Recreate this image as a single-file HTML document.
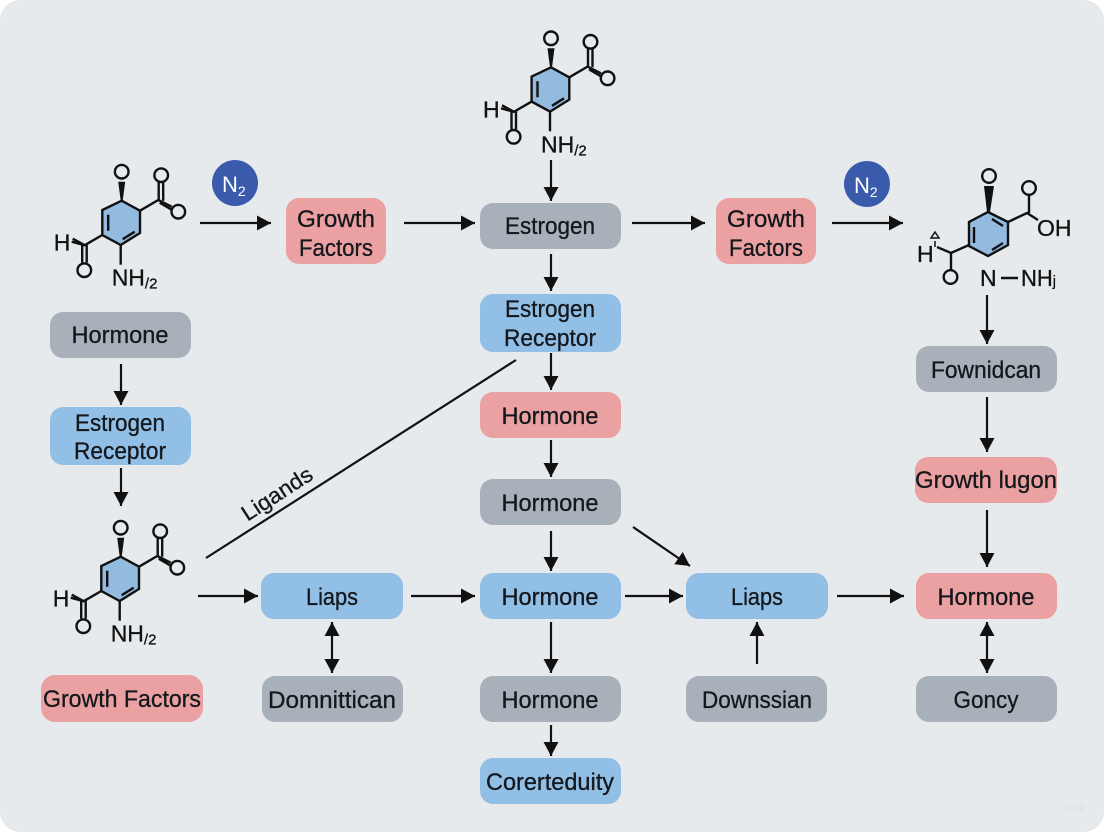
<!DOCTYPE html>
<html><head><meta charset="utf-8"><style>
html,body{margin:0;padding:0;background:#fff}
svg{display:block}
text{font-family:"Liberation Sans",sans-serif;fill:#14181d;stroke:#14181d;stroke-width:.3}
.n text,text.t{font-size:24px;text-anchor:middle}
.m line,.m path,.m circle{stroke:#111;stroke-width:2.4;fill:none}
.m text{font-size:23px;fill:#111;stroke:#111}
.a line{stroke:#111;stroke-width:2.2}
</style></head><body>
<svg width="1104" height="832" viewBox="0 0 1104 832" xmlns="http://www.w3.org/2000/svg">
<defs>
<marker id="h" markerUnits="userSpaceOnUse" markerWidth="15" markerHeight="16" refX="14" refY="7.5" orient="auto-start-reverse"><path d="M0 0L14 7.5L0 15Z" fill="#111"/></marker>
</defs>
<rect width="1104" height="832" rx="20" fill="#e7eaed"/>

<g class="a" marker-end="url(#h)">
<line x1="200" y1="223" x2="271" y2="223"/>
<line x1="404" y1="223" x2="475" y2="223"/>
<line x1="632" y1="223" x2="705" y2="223"/>
<line x1="832" y1="223" x2="903" y2="223"/>
<line x1="551" y1="160" x2="551" y2="201"/>
<line x1="551" y1="254" x2="551" y2="291"/>
<line x1="551" y1="353" x2="551" y2="390"/>
<line x1="551" y1="440" x2="551" y2="477"/>
<line x1="551" y1="531" x2="551" y2="571"/>
<line x1="551" y1="622" x2="551" y2="673"/>
<line x1="551" y1="725" x2="551" y2="756"/>
<line x1="121" y1="364" x2="121" y2="405"/>
<line x1="121" y1="468" x2="121" y2="506"/>
<line x1="987" y1="295" x2="987" y2="344"/>
<line x1="987" y1="397" x2="987" y2="452"/>
<line x1="987" y1="510" x2="987" y2="567"/>
<line x1="198" y1="596" x2="258" y2="596"/>
<line x1="411" y1="596" x2="475" y2="596"/>
<line x1="625" y1="596" x2="683" y2="596"/>
<line x1="837" y1="596" x2="904" y2="596"/>
<line x1="633" y1="527" x2="690" y2="566"/>
<line x1="757" y1="664" x2="757" y2="622"/>
<line x1="332" y1="622" x2="332" y2="673" marker-start="url(#h)"/>
<line x1="987" y1="622" x2="987" y2="673" marker-start="url(#h)"/>
</g>
<line x1="206" y1="558" x2="516" y2="360" stroke="#111" stroke-width="2.2"/>
<text x="281" y="500" font-size="22" text-anchor="middle" transform="rotate(-33 281 500)" textLength="80" lengthAdjust="spacingAndGlyphs">Ligands</text>

<g class="n">
<rect x="286" y="198" width="100" height="66" rx="13" fill="#eba1a1"/>
<text x="336" y="227" textLength="78" lengthAdjust="spacingAndGlyphs">Growth</text><text x="336" y="256" textLength="74" lengthAdjust="spacingAndGlyphs">Factors</text>
<rect x="480" y="203" width="141" height="46" rx="13" fill="#a8b1ba"/>
<text x="550" y="234" textLength="90" lengthAdjust="spacingAndGlyphs">Estrogen</text>
<rect x="716" y="198" width="100" height="66" rx="13" fill="#eba1a1"/>
<text x="766" y="227" textLength="78" lengthAdjust="spacingAndGlyphs">Growth</text><text x="766" y="256" textLength="74" lengthAdjust="spacingAndGlyphs">Factors</text>
<rect x="50" y="312" width="141" height="46" rx="13" fill="#a8b1ba"/>
<text x="120" y="343" textLength="97" lengthAdjust="spacingAndGlyphs">Hormone</text>
<rect x="50" y="407" width="141" height="58" rx="13" fill="#92bfe5"/>
<text x="120" y="431" textLength="90" lengthAdjust="spacingAndGlyphs">Estrogen</text><text x="120" y="459" textLength="92" lengthAdjust="spacingAndGlyphs">Receptor</text>
<rect x="480" y="294" width="141" height="58" rx="13" fill="#92bfe5"/>
<text x="550" y="317" textLength="90" lengthAdjust="spacingAndGlyphs">Estrogen</text><text x="550" y="346" textLength="92" lengthAdjust="spacingAndGlyphs">Receptor</text>
<rect x="480" y="392" width="141" height="46" rx="13" fill="#eba1a1"/>
<text x="550" y="424" textLength="97" lengthAdjust="spacingAndGlyphs">Hormone</text>
<rect x="480" y="479" width="141" height="46" rx="13" fill="#a8b1ba"/>
<text x="550" y="511" textLength="97" lengthAdjust="spacingAndGlyphs">Hormone</text>
<rect x="261" y="573" width="142" height="46" rx="13" fill="#92bfe5"/>
<text x="332" y="605" textLength="52" lengthAdjust="spacingAndGlyphs">Liaps</text>
<rect x="480" y="573" width="141" height="46" rx="13" fill="#92bfe5"/>
<text x="550" y="605" textLength="97" lengthAdjust="spacingAndGlyphs">Hormone</text>
<rect x="686" y="573" width="142" height="46" rx="13" fill="#92bfe5"/>
<text x="757" y="605" textLength="52" lengthAdjust="spacingAndGlyphs">Liaps</text>
<rect x="916" y="573" width="141" height="46" rx="13" fill="#eba1a1"/>
<text x="986" y="605" textLength="97" lengthAdjust="spacingAndGlyphs">Hormone</text>
<rect x="41" y="675" width="162" height="47" rx="14" fill="#eba1a1"/>
<text x="122" y="707" textLength="158" lengthAdjust="spacingAndGlyphs">Growth Factors</text>
<rect x="262" y="676" width="141" height="46" rx="13" fill="#a8b1ba"/>
<text x="332" y="708" textLength="128" lengthAdjust="spacingAndGlyphs">Domnittican</text>
<rect x="480" y="676" width="141" height="46" rx="13" fill="#a8b1ba"/>
<text x="550" y="708" textLength="97" lengthAdjust="spacingAndGlyphs">Hormone</text>
<rect x="686" y="676" width="141" height="46" rx="13" fill="#a8b1ba"/>
<text x="757" y="708" textLength="110" lengthAdjust="spacingAndGlyphs">Downssian</text>
<rect x="916" y="676" width="141" height="46" rx="13" fill="#a8b1ba"/>
<text x="986" y="708" textLength="65" lengthAdjust="spacingAndGlyphs">Goncy</text>
<rect x="480" y="758" width="141" height="46" rx="13" fill="#92bfe5"/>
<text x="550" y="790" textLength="128" lengthAdjust="spacingAndGlyphs">Corerteduity</text>
<rect x="916" y="346" width="141" height="46" rx="13" fill="#a8b1ba"/>
<text x="986" y="378" textLength="110" lengthAdjust="spacingAndGlyphs">Fownidcan</text>
<rect x="915" y="457" width="142" height="46" rx="13" fill="#eba1a1"/>
<text x="986" y="488" textLength="142" lengthAdjust="spacingAndGlyphs">Growth lugon</text>
</g>

<circle cx="235" cy="183" r="23" fill="#3a5bab"/>
<text x="222" y="192" font-size="22" style="fill:#fff;stroke:none">N<tspan font-size="14" dy="4">2</tspan></text>
<circle cx="867" cy="184" r="23" fill="#3a5bab"/>
<text x="854" y="193" font-size="22" style="fill:#fff;stroke:none">N<tspan font-size="14" dy="4">2</tspan></text>

<!-- molecule 1 -->
<g class="m" transform="translate(121.7 200.7)">
<path d="M0 0L18.3 10V32.3L-1 44.3L-19.4 34.3V9.3Z" style="fill:#92bbdf"/>
<path d="M-13.5 14V30M13 31L1 38.5"/>
<circle cx="0" cy="-29" r="6.8"/>
<path d="M-3.5 -19H3.5L1 0H-1Z" style="fill:#111;stroke:none"/>
<path d="M18.3 10L36.6 -0.7L50 6"/><path d="M37 -1L37 -19M41.5 0L41.5 -19M38 2L50 9"/>
<circle cx="39.5" cy="-25.5" r="6.8"/><circle cx="56.6" cy="11" r="6.8"/>
<path d="M-19.4 34.3L-37 44.5L-49 38M-37 44.5L-50 41"/><path d="M-39.5 44V62M-35 44V62"/>
<circle cx="-37.4" cy="69.5" r="6.8"/>
<path d="M-1 44.3V64"/>
<text x="-68" y="50">H</text>
<text x="-10" y="85">NH<tspan font-size="15" dy="3">/2</tspan></text>
</g>
<!-- molecule 2 -->
<g class="m" transform="translate(551 67.3)">
<path d="M0 0L18.3 10V32.3L-1 44.3L-19.4 34.3V9.3Z" style="fill:#92bbdf"/>
<path d="M-13.5 14V30M13 31L1 38.5"/>
<circle cx="0" cy="-29" r="6.8"/>
<path d="M-3.5 -19H3.5L1 0H-1Z" style="fill:#111;stroke:none"/>
<path d="M18.3 10L36.6 -0.7L50 6"/><path d="M37 -1L37 -19M41.5 0L41.5 -19M38 2L50 9"/>
<circle cx="39.5" cy="-25.5" r="6.8"/><circle cx="56.6" cy="11" r="6.8"/>
<path d="M-19.4 34.3L-37 44.5L-49 38M-37 44.5L-50 41"/><path d="M-39.5 44V62M-35 44V62"/>
<circle cx="-37.4" cy="69.5" r="6.8"/>
<path d="M-1 44.3V64"/>
<text x="-68" y="50">H</text>
<text x="-10" y="85">NH<tspan font-size="15" dy="3">/2</tspan></text>
</g>
<!-- molecule 3 -->
<g class="m" transform="translate(120.7 556.7)">
<path d="M0 0L18.3 10V32.3L-1 44.3L-19.4 34.3V9.3Z" style="fill:#92bbdf"/>
<path d="M-13.5 14V30M13 31L1 38.5"/>
<circle cx="0" cy="-29" r="6.8"/>
<path d="M-3.5 -19H3.5L1 0H-1Z" style="fill:#111;stroke:none"/>
<path d="M18.3 10L36.6 -0.7L50 6"/><path d="M37 -1L37 -19M41.5 0L41.5 -19M38 2L50 9"/>
<circle cx="39.5" cy="-25.5" r="6.8"/><circle cx="56.6" cy="11" r="6.8"/>
<path d="M-19.4 34.3L-37 44.5L-49 38M-37 44.5L-50 41"/><path d="M-39.5 44V62M-35 44V62"/>
<circle cx="-37.4" cy="69.5" r="6.8"/>
<path d="M-1 44.3V64"/>
<text x="-68" y="50">H</text>
<text x="-10" y="85">NH<tspan font-size="15" dy="3">/2</tspan></text>
</g>
<!-- molecule 4 -->
<g class="m">
<path d="M988 212L1008 222V245L988 256L969 246V222Z" style="fill:#92bbdf"/>
<path d="M974 227V243M992 219L1003 226M1003 243L992 250"/>
<circle cx="989" cy="176" r="6.8"/>
<path d="M984 186H994L990 212H987Z" style="fill:#111;stroke:none"/>
<path d="M1008 222L1027 213L1038 220M1029 213V195"/>
<circle cx="1029" cy="188" r="6.8"/>
<text x="1037" y="236">OH</text>
<path d="M969 245L951 253L937 247M951 253V270"/>
<circle cx="950.500" cy="277" r="6.800"/>
<text x="917" y="262">H</text>
<path d="M935 232L939 238H931ZM935 241V247" style="stroke-width:1.500"/>
<text x="980" y="286">N</text>
<path d="M1001 278H1018"/>
<text x="1021" y="286" textLength="35" lengthAdjust="spacingAndGlyphs">NH<tspan font-size="15">j</tspan></text>
</g>
<text x="1071" y="812" font-size="14" text-anchor="middle" style="fill:#dfe3e6;stroke:none">Grok</text>
</svg>
</body></html>
